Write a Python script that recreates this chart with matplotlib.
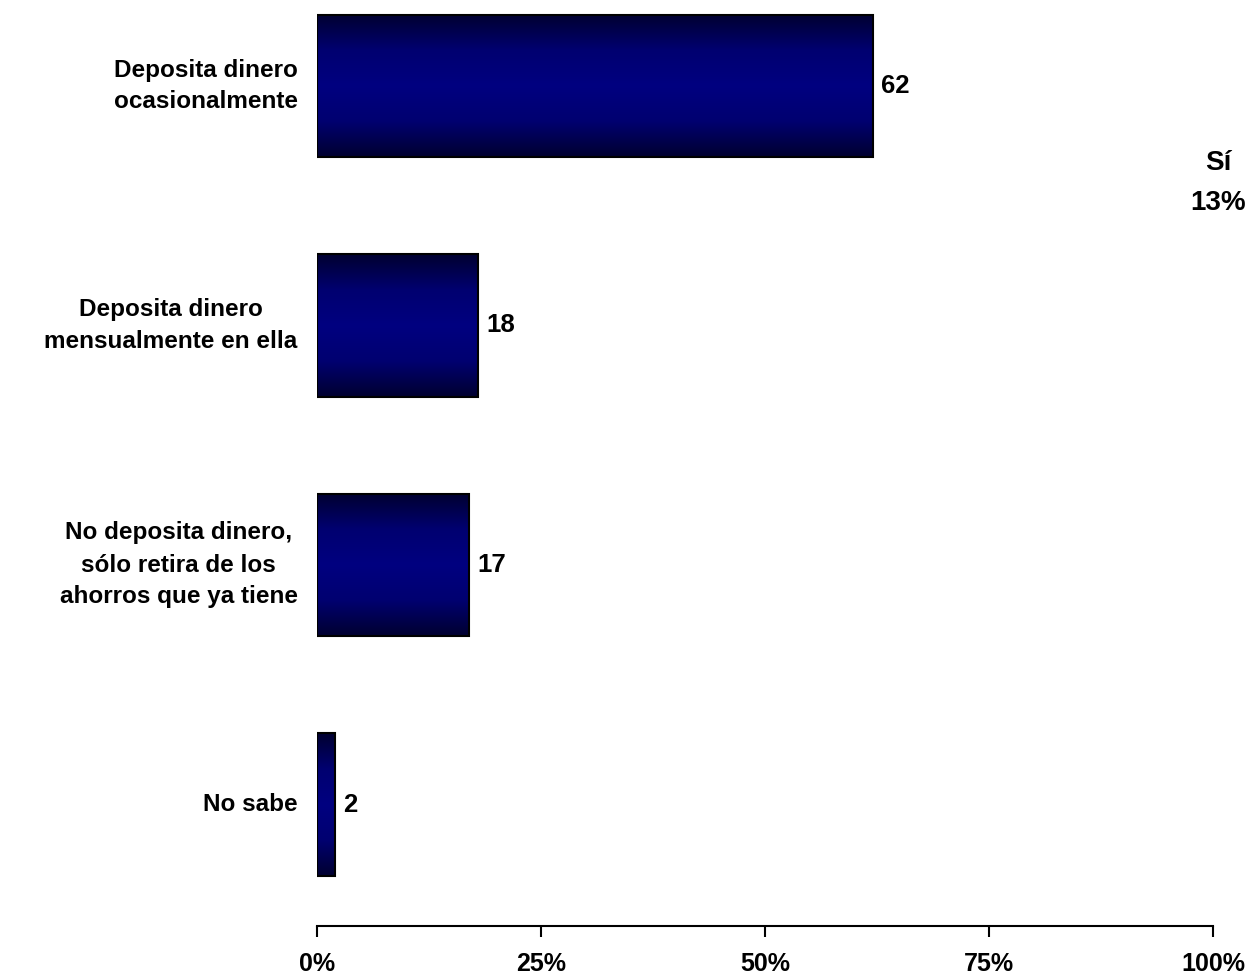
import numpy as np
import matplotlib
matplotlib.use("Agg")
import matplotlib.pyplot as plt
from matplotlib.colors import LinearSegmentedColormap

categorias = ["Deposita dinero\nocasionalmente",
              "Deposita dinero\nmensualmente en ella",
              "No deposita dinero,\nsólo retira de los\nahorros que ya tiene",
              "No sabe"]
valores = [62, 18, 17, 2]
ticks = [0, 25, 50, 75, 100]
tick_labels = ["0%", "25%", "50%", "75%", "100%"]
nota = "Sí\n13%"

plt.rcParams['font.family'] = ['Liberation Sans', 'DejaVu Sans']
plt.rcParams['font.weight'] = 'bold'

fig = plt.figure(figsize=(12.49, 9.75), dpi=100)
ax = fig.add_axes([317/1249, 49/975, 896/1249, 926/975])

y = np.arange(len(categorias))
barras = ax.barh(y, valores, height=0.593, facecolor='none',
                 edgecolor='black', linewidth=1.5, zorder=3)

# degradado vertical: oscuro en los bordes, azul en el centro
cmap = LinearSegmentedColormap.from_list("azul", ["#000030", "#000070", "#000080",
                                                  "#000070", "#000030"])
grad = np.linspace(0, 1, 256).reshape(-1, 1)
for b in barras:
    x0, y0 = b.get_x(), b.get_y()
    w, h = b.get_width(), b.get_height()
    im = ax.imshow(grad, cmap=cmap, aspect='auto', extent=(x0, x0 + w, y0 + h, y0),
                   zorder=2, interpolation='bicubic')
    im.set_clip_path(b)

for yi, v in zip(y, valores):
    ax.text(v + 0.9, yi, str(v), va='center', ha='left', fontsize=18.5, fontweight='bold')

ax.set_xlim(0, 100)
ax.set_ylim(3 + 121.5/239.5, -86/239.5)

ax.set_yticks(y)
ax.set_yticklabels(categorias, fontsize=17.5, fontweight='bold')
for lab in ax.get_yticklabels():
    lab.set_multialignment('center')
    lab.set_linespacing(1.5)
    lab.set_va('center')
ax.tick_params(axis='y', length=0, pad=14)

ax.set_xticks(ticks)
ax.set_xticklabels(tick_labels, fontsize=18, fontweight='bold')
ax.tick_params(axis='x', length=8, width=1.5, direction='out', pad=11)

for s in ['top', 'right', 'left']:
    ax.spines[s].set_visible(False)
ax.spines['bottom'].set_linewidth(1.5)

fig.text(1218/1249, 1 - 183/975, nota, ha='center', va='center', fontsize=20,
         fontweight='bold', linespacing=1.65)

fig.savefig("out.png", dpi=100)
